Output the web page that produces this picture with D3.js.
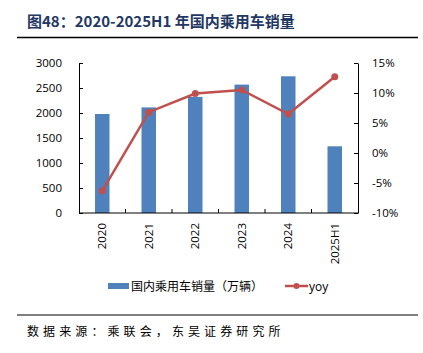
<!DOCTYPE html>
<html>
<head>
<meta charset="utf-8">
<script src="https://cdn.jsdelivr.net/npm/d3@7"></script>
<style>
  html, body { margin: 0; padding: 0; background: #fff; }
  svg { display: block; }
</style>
</head>
<body>
<svg id="chart" width="423" height="353"></svg>
<script>
// 年份与数据
const years = ["2020", "2021", "2022", "2023", "2024", "2025H1"];
const sales = [1980, 2112, 2322, 2568, 2734, 1334];
const yoy = [-6.3, 6.8, 9.9, 10.5, 6.5, 12.7];
const leftTicks = [0, 500, 1000, 1500, 2000, 2500, 3000];
const rightTicks = [-10, -5, 0, 5, 10, 15];

const svg = d3.select("#chart");
const font = "'Noto Sans CJK SC', 'Noto Sans', sans-serif";

const plot = { left: 79, right: 358, top: 63, bottom: 213 };

// 标题
svg.append("text")
  .attr("x", 27).attr("y", 27)
  .attr("font-family", font)
  .attr("font-size", 15)
  .attr("font-weight", "bold")
  .attr("fill", "#1F3864")
  .text("图48：2020-2025H1 年国内乘用车销量");

svg.append("line")
  .attr("x1", 17).attr("x2", 418).attr("y1", 37.5).attr("y2", 37.5)
  .attr("stroke", "#000").attr("stroke-width", 1.5);

svg.append("line")
  .attr("x1", 17).attr("x2", 418).attr("y1", 315).attr("y2", 315)
  .attr("stroke", "#000").attr("stroke-width", 1);

svg.append("text")
  .attr("x", 27).attr("y", 336)
  .attr("font-family", font)
  .attr("font-size", 12)
  .attr("letter-spacing", 4.1)
  .attr("fill", "#000")
  .text("数据来源：乘联会，东吴证券研究所");

// 比例尺
const x = d3.scaleBand().domain(years).range([plot.left, plot.right]);
const yL = d3.scaleLinear().domain([0, 3000]).range([plot.bottom, plot.top]);
const yR = d3.scaleLinear().domain([-10, 15]).range([plot.bottom, plot.top]);

const barW = 14.5;

// 柱子
svg.append("g").selectAll("rect")
  .data(years)
  .join("rect")
  .attr("x", (d) => x(d) + x.bandwidth() / 2 - barW / 2)
  .attr("width", barW)
  .attr("y", (d, i) => yL(sales[i]))
  .attr("height", (d, i) => plot.bottom - yL(sales[i]))
  .attr("fill", "#4F81BD");

// 坐标轴
const axisStyle = g => {
  g.selectAll("path, line").attr("stroke", "#000");
  g.selectAll("text")
    .attr("font-family", "'Open Sans', 'Noto Sans', sans-serif")
    .attr("font-size", 11.5)
    .attr("fill", "#000");
};

svg.append("g")
  .attr("transform", `translate(${plot.left},0)`)
  .call(d3.axisLeft(yL).tickValues(leftTicks).tickSizeInner(-4).tickSizeOuter(0)
    .tickPadding(17).tickFormat(d3.format("d")))
  .call(axisStyle);

svg.append("g")
  .attr("transform", `translate(${plot.right},0)`)
  .call(d3.axisRight(yR).tickValues(rightTicks).tickSizeInner(-4).tickSizeOuter(0)
    .tickPadding(14).tickFormat(d => d + "%"))
  .call(axisStyle);

const xAxis = svg.append("g")
  .attr("transform", `translate(0,${plot.bottom})`);
xAxis.append("line")
  .attr("x1", plot.left).attr("x2", plot.right)
  .attr("stroke", "#000");
xAxis.selectAll("line.tick")
  .data(years.slice(1))
  .join("line")
  .attr("class", "tick")
  .attr("x1", d => x(d)).attr("x2", d => x(d))
  .attr("y1", 0).attr("y2", -4)
  .attr("stroke", "#000");
xAxis.selectAll("text")
  .data(years)
  .join("text")
  .attr("transform", d => `translate(${x(d) + x.bandwidth() / 2 + 4},10) rotate(-90)`)
  .attr("text-anchor", "end")
  .attr("font-family", "'Open Sans', 'Noto Sans', sans-serif")
  .attr("font-size", 11.5)
  .text(d => d);

// 折线
const line = d3.line()
  .x((d, i) => x(years[i]) + x.bandwidth() / 2)
  .y(d => yR(d));

svg.append("path")
  .datum(yoy)
  .attr("d", line)
  .attr("fill", "none")
  .attr("stroke", "#C0504D")
  .attr("stroke-width", 2.5);

svg.append("g").selectAll("circle")
  .data(yoy)
  .join("circle")
  .attr("cx", (d, i) => x(years[i]) + x.bandwidth() / 2)
  .attr("cy", d => yR(d))
  .attr("r", 3.5)
  .attr("fill", "#C0504D");

// 图例
const legend = svg.append("g").attr("font-family", font).attr("font-size", 12);
legend.append("rect")
  .attr("x", 108).attr("y", 283).attr("width", 21).attr("height", 6)
  .attr("fill", "#4F81BD");
legend.append("text")
  .attr("x", 131).attr("y", 290.5)
  .text("国内乘用车销量（万辆）");
legend.append("line")
  .attr("x1", 285).attr("x2", 308).attr("y1", 286).attr("y2", 286)
  .attr("stroke", "#C0504D").attr("stroke-width", 2.5);
legend.append("circle")
  .attr("cx", 296.5).attr("cy", 286).attr("r", 3)
  .attr("fill", "#C0504D");
legend.append("text")
  .attr("x", 309).attr("y", 290.5)
  .attr("font-family", "'Open Sans', 'Noto Sans', sans-serif")
  .text("yoy");
</script>
</body>
</html>
